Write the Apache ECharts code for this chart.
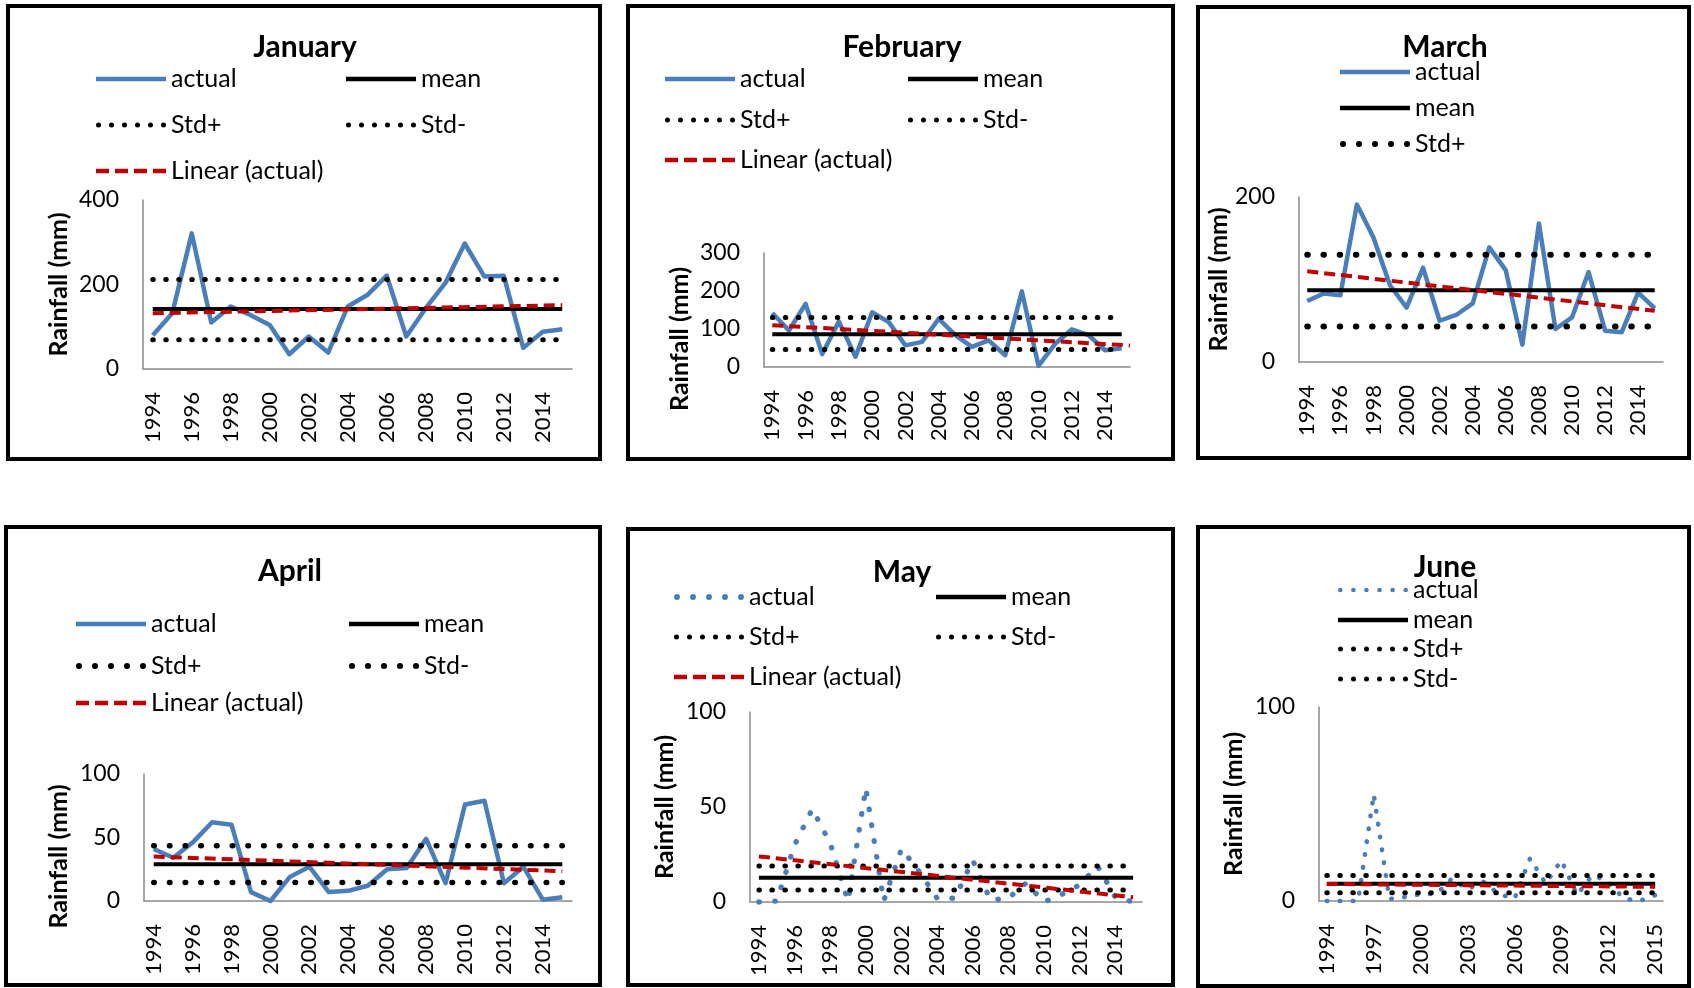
<!DOCTYPE html>
<html>
<head>
<meta charset="utf-8">
<title>Monthly rainfall 1994–2015</title>
<script src="https://cdn.jsdelivr.net/npm/echarts@6/dist/echarts.min.js"></script>
<style>
  html, body { margin: 0; padding: 0; background: #fff; }
  #chart { width: 1694px; height: 988px; }
</style>
</head>
<body>
<div id="chart"></div>
<script>
// ---------------- data ----------------
const years = [1994, 1995, 1996, 1997, 1998, 1999, 2000, 2001, 2002, 2003, 2004,
               2005, 2006, 2007, 2008, 2009, 2010, 2011, 2012, 2013, 2014, 2015];
const evenYearTicks = [1994, 1996, 1998, 2000, 2002, 2004, 2006, 2008, 2010, 2012, 2014];
const juneYearTicks = [1994, 1997, 2000, 2003, 2006, 2009, 2012, 2015];

// January (mm)
const janActual = [80, 132, 321, 110, 148, 128, 104, 35, 77, 39, 148, 175, 221, 77, 144, 203, 297, 219, 221, 50, 88, 94];
const janLevels = [142, 212, 69];          // mean, Std+, Std-
const janTrend = [132, 151];               // linear fit at start / end
const janTrendYears = [1994, 2015];
const janYTicks = [0, 200, 400];

// February
const febActual = [142, 96, 166, 34, 120, 27, 144, 118, 57, 66, 127, 84, 53, 70, 31, 199, 3, 61, 99, 84, 44, 49];
const febLevels = [86, 130, 46];
const febTrend = [110, 56.5];
const febTrendYears = [1994, 2015.5];
const febYTicks = [0, 100, 200, 300];

// March
const marActual = [74, 83, 81, 191, 151, 93, 66, 114, 50, 57, 71, 139, 111, 21, 168, 40, 54, 109, 38, 36, 84, 65];
const marLevels = [87, 130, 43];
const marTrend = [110, 62];
const marTrendYears = [1994, 2015];
const marYTicks = [0, 200];

// April
const aprActual = [41, 34, 46, 62, 60, 7, 0, 19, 27, 7, 8, 12, 25, 26, 49, 14, 76, 79, 14, 27, 1, 3];
const aprLevels = [29, 43.5, 14.5];
const aprTrend = [35, 23.5];
const aprTrendYears = [1994, 2015];
const aprYTicks = [0, 50, 100];

// May
const mayActual = [0, 0.5, 30, 49, 31, 0.5, 60, 0.5, 28, 16, 2, 2, 22, 1, 2, 10, 0, 4, 9, 19, 2.5, 0];
const mayLevels = [12.7, 19, 6.3];
const mayTrend = [24, 2.5];
const mayTrendYears = [1994, 2015];
const mayYTicks = [0, 50, 100];

// June
const junActual = [0, 0, 0, 55, 1, 2, 3.6, 3.6, 11.5, 6, 10, 3.6, 1.2, 22, 9, 21, 3, 13.6, 9.8, 1.2, 0, 3];
const junLevels = [8.9, 13.2, 4.3];
const junTrend = [8.8, 7.3];
const junTrendYears = [1994, 2015];
const junYTicks = [0, 100];

const panels = [
  { title: 'January',  actual: janActual, levels: janLevels, trend: janTrend, trendYears: janTrendYears, yTicks: janYTicks, xTicks: evenYearTicks },
  { title: 'February', actual: febActual, levels: febLevels, trend: febTrend, trendYears: febTrendYears, yTicks: febYTicks, xTicks: evenYearTicks },
  { title: 'March',    actual: marActual, levels: marLevels, trend: marTrend, trendYears: marTrendYears, yTicks: marYTicks, xTicks: evenYearTicks },
  { title: 'April',    actual: aprActual, levels: aprLevels, trend: aprTrend, trendYears: aprTrendYears, yTicks: aprYTicks, xTicks: evenYearTicks },
  { title: 'May',      actual: mayActual, levels: mayLevels, trend: mayTrend, trendYears: mayTrendYears, yTicks: mayYTicks, xTicks: evenYearTicks },
  { title: 'June',     actual: junActual, levels: junLevels, trend: junTrend, trendYears: junTrendYears, yTicks: junYTicks, xTicks: juneYearTicks }
];

// ---------------- layout & style ----------------
const BLUE = '#4A7EBB';
const RED = '#C00000';
const AXIS_GRAY = '#8A8A8A';
const FONT = 'Lato, "Open Sans", sans-serif';

// box: frame rect; grid: [left, top, width, height]; title: [cx, cy]
// std: [dot size, period]; actualDots: dotted "actual" line [dot size, period] or null
// legend rows: [series name, text x, row y]
const layouts = {
  January: {
    box: [8, 6, 592, 453], grid: [143, 200, 429, 169], title: [305, 47], nameGap: 72, nameShift: 0,
    std: [5, 13], stdLegendDots: [6, 5], actualDots: null,
    legend: [['actual', 171, 79], ['mean', 421, 79], ['Std+', 171, 125], ['Std-', 421, 125], ['Linear (actual)', 171, 171]]
  },
  February: {
    box: [628, 6, 545, 453], grid: [764, 253, 366, 114], title: [902, 47], nameGap: 72, nameShift: 29,
    std: [5, 13], stdLegendDots: [6, 5], actualDots: null,
    legend: [['actual', 740, 79], ['mean', 983, 79], ['Std+', 740, 120], ['Std-', 983, 120], ['Linear (actual)', 740, 160]]
  },
  March: {
    box: [1198, 7, 491, 451], grid: [1299, 197, 364, 165], title: [1445, 47], nameGap: 67, nameShift: 0,
    std: [6, 16.2], stdLegendDots: [5, 6], actualDots: null,
    legend: [['actual', 1415, 72], ['mean', 1415, 108], ['Std+', 1415, 144]]
  },
  April: {
    box: [6, 527, 594, 458], grid: [144, 774, 428, 127], title: [290, 571], nameGap: 73, nameShift: 19,
    std: [5.5, 15.7], stdLegendDots: [5, 6], actualDots: null,
    legend: [['actual', 151, 624], ['mean', 424, 624], ['Std+', 151, 666], ['Std-', 424, 666], ['Linear (actual)', 151, 703]]
  },
  May: {
    box: [628, 529, 545, 456], grid: [750, 712, 392, 190], title: [902, 572], nameGap: 73, nameShift: 0,
    std: [5, 13], stdLegendDots: [6, 5], actualDots: [5.3, 16], actualLegendDots: [5, 6],
    legend: [['actual', 749, 597], ['mean', 1011, 597], ['Std+', 749, 637], ['Std-', 1011, 637], ['Linear (actual)', 749, 677]]
  },
  June: {
    box: [1198, 527, 491, 459], grid: [1319, 707, 344, 194], title: [1445, 567], nameGap: 73, nameShift: 0,
    std: [5, 13], stdLegendDots: [6, 5], actualDots: [4.6, 13], actualLegendDots: [6, 4.6],
    legend: [['actual', 1413, 590], ['mean', 1413, 620], ['Std+', 1413, 649], ['Std-', 1413, 679]]
  }
};

const ICON_W = 70;

// legend icon shapes, drawn as filled paths
function dotsIcon(n, d, w) {
  const r = d / 2, step = (w - d) / (n - 1);
  let p = 'path://';
  for (let k = 0; k < n; k++) {
    const cx = r + k * step;
    p += 'M' + (cx - r) + ',' + r + 'A' + r + ',' + r + ' 0 1,0 ' + (cx + r) + ',' + r +
         'A' + r + ',' + r + ' 0 1,0 ' + (cx - r) + ',' + r + 'Z';
  }
  return p;
}
function barIcon(w, h) {
  return 'path://M0,0H' + w + 'V' + h + 'H0Z';
}
function dashIcon(n, w, h, gap) {
  const len = (w - gap * (n - 1)) / n;
  let p = 'path://';
  for (let k = 0; k < n; k++) {
    const x0 = k * (len + gap);
    p += 'M' + x0 + ',0H' + (x0 + len) + 'V' + h + 'H' + x0 + 'Z';
  }
  return p;
}

function legendSpec(name, L) {
  if (name === 'actual') {
    if (L.actualDots) {
      const [n, d] = L.actualLegendDots;
      return { icon: dotsIcon(n, d, ICON_W), h: d, color: BLUE };
    }
    return { icon: barIcon(ICON_W, 4.5), h: 4.5, color: BLUE };
  }
  if (name === 'mean') return { icon: barIcon(ICON_W, 4.5), h: 4.5, color: '#000' };
  if (name === 'Std+' || name === 'Std-') {
    const [n, d] = L.stdLegendDots;
    return { icon: dotsIcon(n, d, ICON_W), h: d, color: '#000' };
  }
  return { icon: dashIcon(4, ICON_W, 4.5, 6), h: 4.5, color: RED };
}

const option = {
  animation: false,
  backgroundColor: '#fff',
  title: [], legend: [], grid: [], xAxis: [], yAxis: [], series: [], graphic: []
};

panels.forEach((p, i) => {
  const L = layouts[p.title];
  const [mean, stdPlus, stdMinus] = p.levels;
  const yMax = p.yTicks[p.yTicks.length - 1];
  const yStep = p.yTicks[1] - p.yTicks[0];

  option.graphic.push({
    type: 'rect', z: 100, silent: true,
    shape: { x: L.box[0], y: L.box[1], width: L.box[2], height: L.box[3] },
    style: { fill: 'none', stroke: '#000', lineWidth: 4 }
  });

  option.title.push({
    text: p.title, left: L.title[0], top: L.title[1], padding: 0,
    textAlign: 'center', textVerticalAlign: 'middle',
    textStyle: { fontFamily: FONT, fontWeight: 'bold', fontSize: 30, color: '#000' }
  });

  option.grid.push({
    left: L.grid[0], top: L.grid[1], width: L.grid[2], height: L.grid[3],
    containLabel: false, outerBoundsMode: 'none'
  });

  option.xAxis.push({
    gridIndex: i, type: 'value',
    min: years[0] - 0.5, max: years[years.length - 1] + 0.5,
    axisLine: { show: true, onZero: false, lineStyle: { color: AXIS_GRAY, width: 1.5 } },
    axisTick: { show: false },
    splitLine: { show: false },
    axisLabel: {
      customValues: p.xTicks, rotate: 90, margin: 23,
      fontFamily: FONT, fontSize: 22, color: '#000',
      formatter: v => String(v)
    }
  });

  option.yAxis.push({
    gridIndex: i, type: 'value', min: 0, max: yMax, interval: yStep,
    name: 'Rainfall (mm)', nameLocation: 'middle', nameGap: L.nameGap,
    nameTextStyle: {
      fontFamily: FONT, fontWeight: 'bold', fontSize: 25, color: '#000',
      padding: [0, 2 * L.nameShift, 0, 0]
    },
    axisLine: { show: true, lineStyle: { color: AXIS_GRAY, width: 1.5 } },
    axisTick: { show: false },
    splitLine: { show: false },
    axisLabel: { margin: 24, fontFamily: FONT, fontSize: 23, color: '#000' }
  });

  const common = {
    type: 'line', xAxisIndex: i, yAxisIndex: i, symbol: 'none',
    clip: false, silent: true, emphasis: { disabled: true }
  };
  const level = v => years.map(y => [y, v]);
  const stdStyle = { color: '#000', width: L.std[0], type: [0.5, L.std[1] - 0.5], cap: 'round' };

  option.series.push(
    Object.assign({}, common, {
      name: 'actual',
      data: years.map((y, k) => [y, p.actual[k]]),
      itemStyle: { color: BLUE },
      lineStyle: L.actualDots
        ? { color: BLUE, width: L.actualDots[0], type: [0.5, L.actualDots[1] - 0.5], cap: 'round' }
        : { color: BLUE, width: 4.5, join: 'round' }
    }),
    Object.assign({}, common, {
      name: 'mean', data: level(mean),
      itemStyle: { color: '#000' }, lineStyle: { color: '#000', width: 4 }
    }),
    Object.assign({}, common, {
      name: 'Std+', data: level(stdPlus),
      itemStyle: { color: '#000' }, lineStyle: stdStyle
    }),
    Object.assign({}, common, {
      name: 'Std-', data: level(stdMinus),
      itemStyle: { color: '#000' }, lineStyle: stdStyle
    }),
    Object.assign({}, common, {
      name: 'Linear (actual)',
      data: [[p.trendYears[0], p.trend[0]], [p.trendYears[1], p.trend[1]]],
      itemStyle: { color: RED }, lineStyle: { color: RED, width: 4, type: [11, 6] }
    })
  );

  L.legend.forEach(([name, textX, rowY]) => {
    const s = legendSpec(name, L);
    option.legend.push({
      left: textX - 5 - ICON_W, top: rowY - 12.5, padding: 0,
      selectedMode: false, itemWidth: ICON_W, itemHeight: s.h,
      data: [{ name: name, icon: s.icon }],
      itemStyle: { color: s.color, borderWidth: 0 },
      textStyle: { fontFamily: FONT, fontSize: 25, color: '#000' }
    });
  });
});

const chart = echarts.init(document.getElementById('chart'), null, { renderer: 'canvas', width: 1694, height: 988 });
chart.setOption(option);
</script>
</body>
</html>
